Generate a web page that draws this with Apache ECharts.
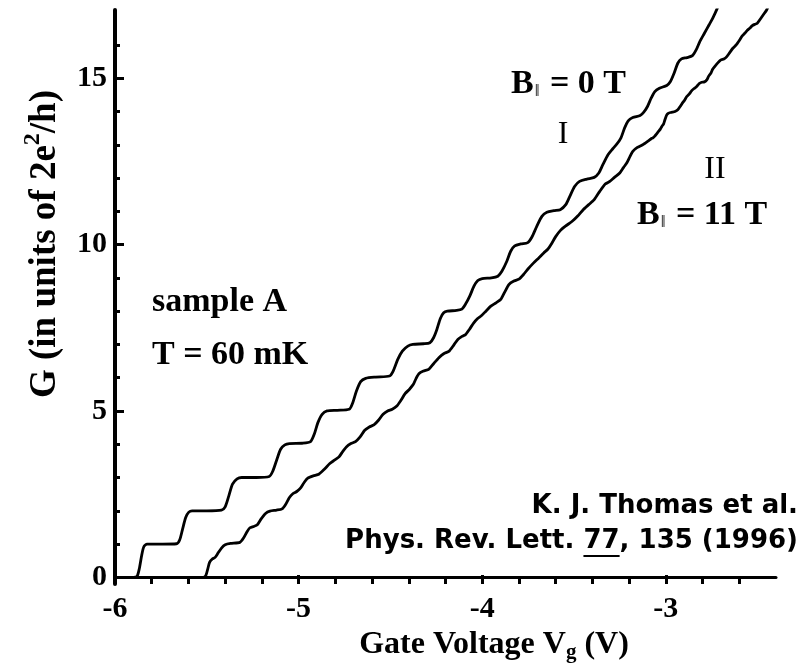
<!DOCTYPE html>
<html>
<head>
<meta charset="utf-8">
<script src="https://cdn.jsdelivr.net/npm/echarts@6/dist/echarts.min.js"></script>
<style>
  html, body { margin: 0; padding: 0; background: #fff; }
  #chart { width: 811px; height: 670px; }
</style>
</head>
<body>
<div id="chart"></div>
<script>
// Trace I: B|| = 0 T — gate voltage (V) and conductance (units of 2e^2/h)
const vgTraceI = [
  -6.00, -5.90, -5.88, -5.868, -5.855, -5.843, -5.825, -5.74, -5.665, -5.648,
  -5.632, -5.615, -5.598, -5.58, -5.50, -5.42, -5.40, -5.38, -5.36, -5.335,
  -5.31, -5.23, -5.16, -5.14, -5.118, -5.098, -5.075, -5.05, -4.98, -4.935,
  -4.915, -4.895, -4.872, -4.845, -4.79, -4.725, -4.705, -4.685, -4.662, -4.635,
  -4.58, -4.505, -4.485, -4.46, -4.435, -4.405, -4.378, -4.32, -4.285, -4.265,
  -4.247, -4.228, -4.21, -4.19, -4.14, -4.111, -4.09, -4.068, -4.045, -4.024,
  -4.00, -3.95, -3.915, -3.893, -3.866, -3.845, -3.823, -3.79, -3.752, -3.73,
  -3.703, -3.675, -3.648, -3.61, -3.575, -3.545, -3.523, -3.496, -3.47, -3.43,
  -3.39, -3.365, -3.343, -3.315, -3.289, -3.27, -3.245, -3.225, -3.205, -3.18,
  -3.14, -3.12, -3.10, -3.08, -3.06, -3.035, -2.995, -2.975, -2.955, -2.935,
  -2.915, -2.885, -2.855, -2.835, -2.815, -2.79, -2.765, -2.745, -2.72, -2.71
];
const gTraceI = [
  0.00, 0.00, 0.03, 0.25, 0.65, 0.92, 1.00, 1.00, 1.01, 1.12,
  1.45, 1.80, 1.96, 2.00, 2.00, 2.02, 2.12, 2.45, 2.80, 2.96,
  3.00, 3.00, 3.03, 3.20, 3.55, 3.85, 3.98, 4.02, 4.03, 4.08,
  4.30, 4.65, 4.90, 5.00, 5.02, 5.05, 5.25, 5.60, 5.88, 5.98,
  6.02, 6.05, 6.20, 6.55, 6.80, 6.95, 7.00, 7.02, 7.05, 7.20,
  7.45, 7.78, 7.95, 8.00, 8.02, 8.06, 8.22, 8.45, 8.75, 8.92,
  8.98, 9.00, 9.05, 9.20, 9.50, 9.80, 9.96, 10.02, 10.06, 10.22,
  10.55, 10.85, 10.97, 11.02, 11.05, 11.20, 11.45, 11.75, 11.90, 11.97,
  12.02, 12.15, 12.40, 12.70, 12.88, 13.00, 13.20, 13.50, 13.72, 13.82,
  13.88, 13.98, 14.15, 14.40, 14.60, 14.70, 14.78, 14.90, 15.15, 15.45,
  15.58, 15.62, 15.68, 15.85, 16.10, 16.35, 16.60, 16.80, 17.10, 17.25
];

// Trace II: B|| = 11 T — spin-split steps, noisier at high conductance
const vgTraceII = [
  -6.00, -5.60, -5.52, -5.505, -5.495, -5.485, -5.47, -5.455, -5.44, -5.42,
  -5.40, -5.37, -5.32, -5.30, -5.28, -5.265, -5.245, -5.225, -5.205, -5.18,
  -5.156, -5.12, -5.09, -5.07, -5.05, -5.03, -5.01, -4.99, -4.97, -4.95,
  -4.92, -4.89, -4.86, -4.83, -4.805, -4.78, -4.76, -4.74, -4.715, -4.69,
  -4.665, -4.64, -4.615, -4.59, -4.565, -4.54, -4.515, -4.49, -4.465, -4.445,
  -4.42, -4.395, -4.375, -4.36, -4.345, -4.32, -4.29, -4.265, -4.236, -4.21,
  -4.18, -4.155, -4.133, -4.11, -4.09, -4.07, -4.046, -4.025, -4.005, -3.98,
  -3.953, -3.925, -3.899, -3.877, -3.855, -3.83, -3.80, -3.775, -3.752, -3.72,
  -3.692, -3.665, -3.643, -3.62, -3.60, -3.575, -3.545, -3.51, -3.48, -3.45,
  -3.42, -3.39, -3.36, -3.33, -3.305, -3.28, -3.251, -3.23, -3.213, -3.195,
  -3.18, -3.155, -3.126, -3.095, -3.08, -3.07, -3.06, -3.05, -3.04, -3.03,
  -3.022, -3.012, -3.005, -2.995, -2.985, -2.975, -2.965, -2.95, -2.935, -2.922,
  -2.91, -2.898, -2.886, -2.873, -2.86, -2.846, -2.832, -2.818, -2.805, -2.79,
  -2.777, -2.766, -2.755, -2.745, -2.734, -2.717, -2.70, -2.684, -2.668, -2.652,
  -2.635, -2.617, -2.598, -2.584, -2.57, -2.556, -2.543, -2.529, -2.515, -2.502,
  -2.489, -2.47, -2.451, -2.44
];
const gTraceII = [
  0.00, 0.00, 0.00, 0.06, 0.25, 0.45, 0.55, 0.60, 0.72, 0.88,
  0.98, 1.02, 1.05, 1.18, 1.38, 1.49, 1.53, 1.58, 1.75, 1.92,
  1.99, 2.02, 2.06, 2.20, 2.40, 2.52, 2.58, 2.68, 2.85, 2.98,
  3.05, 3.10, 3.25, 3.42, 3.52, 3.62, 3.78, 3.92, 4.02, 4.08,
  4.22, 4.42, 4.52, 4.58, 4.72, 4.90, 5.00, 5.05, 5.15, 5.30,
  5.52, 5.66, 5.80, 5.98, 6.12, 6.20, 6.26, 6.42, 6.60, 6.72,
  6.80, 6.98, 7.15, 7.24, 7.30, 7.45, 7.65, 7.78, 7.86, 8.00,
  8.15, 8.25, 8.35, 8.58, 8.80, 8.90, 8.96, 9.10, 9.26, 9.45,
  9.60, 9.75, 9.86, 10.05, 10.24, 10.42, 10.56, 10.70, 10.86, 11.05,
  11.20, 11.35, 11.60, 11.82, 11.90, 12.02, 12.15, 12.32, 12.45, 12.65,
  12.80, 12.92, 13.00, 13.12, 13.18, 13.21, 13.26, 13.33, 13.40, 13.47,
  13.55, 13.63, 13.75, 13.90, 13.95, 13.97, 13.98, 14.00, 14.05, 14.15,
  14.25, 14.34, 14.45, 14.52, 14.62, 14.69, 14.75, 14.84, 14.88, 14.89,
  14.95, 15.07, 15.15, 15.27, 15.35, 15.46, 15.55, 15.58, 15.65, 15.77,
  15.90, 16.00, 16.15, 16.27, 16.35, 16.44, 16.50, 16.58, 16.62, 16.65,
  16.75, 16.90, 17.05, 17.20
];

// Axis ticks
const xMajorTicks = [-6, -5, -4, -3];
const yMajorTicks = [0, 5, 10, 15];

const SERIF = "'Liberation Serif', 'Times New Roman', serif";
const SANS = "'DejaVu Sans', Verdana, sans-serif";

const zip = (xs, ys) => xs.map((x, i) => [x, ys[i]]);

// Plot frame in pixels
const L = 115, R = 776, T = 10, B = 584;
const X_MIN = -6, X_MAX = -2.4, Y_MIN = -0.2, Y_MAX = 17.05;
const pxPerV = (R - L) / (X_MAX - X_MIN);
const pxPerG = (B - T) / (Y_MAX - Y_MIN);
const xPix = v => L + (v - X_MIN) * pxPerV;
const yPix = g => B - (g - Y_MIN) * pxPerG;

const chart = echarts.init(document.getElementById('chart'), null, { renderer: 'canvas' });

const hiddenAxis = (gridIndex) => ({ gridIndex, type: 'value', show: false, min: 0, max: 1 });

const tickLabelStyle = {
  fontFamily: SERIF, fontWeight: 'bold', fontSize: 30, color: '#000'
};

// Underline position under the volume number
function measure(text, font) {
  const c = document.createElement('canvas').getContext('2d');
  c.font = font;
  return c.measureText(text).width;
}
const citeFont = 'bold 26px ' + SANS;
const citeText = 'Phys. Rev. Lett. 77, 135 (1996)';
const citeRight = 798;
const citeStart = citeRight - measure(citeText, citeFont);
const volStart = citeStart + measure('Phys. Rev. Lett. ', citeFont);
const volEnd = volStart + measure('77', citeFont);

const subRich = { fontFamily: SERIF, fontSize: 17, lineHeight: 17, padding: [15, 2, 0, 1] };

const option = {
  animation: false,
  backgroundColor: '#fff',
  grid: [
    { left: L, top: T, width: R - L, height: B - T },
    // major x ticks / labels
    { left: L, top: T, width: xPix(-3) - L, height: B - T },
    // minor x ticks
    { left: L, top: T, width: xPix(-2.6) - L, height: B - T },
    // major y ticks / labels
    { left: L, top: yPix(15), width: R - L, height: yPix(0) - yPix(15) },
    // minor y ticks
    { left: L, top: yPix(16), width: R - L, height: yPix(0) - yPix(16) }
  ],
  xAxis: [
    {
      gridIndex: 0, type: 'value', min: X_MIN, max: X_MAX,
      axisLine: { lineStyle: { color: '#000', width: 3 } },
      axisTick: { show: false }, axisLabel: { show: false }, splitLine: { show: false }
    },
    {
      gridIndex: 1, type: 'value', min: -6, max: -3, interval: 1,
      axisLine: { show: false },
      axisTick: { inside: true, length: 9, lineStyle: { color: '#000', width: 3 } },
      axisLabel: Object.assign({ margin: 10, formatter: v => xMajorTicks.includes(v) ? String(v) : '' }, tickLabelStyle),
      splitLine: { show: false }
    },
    {
      gridIndex: 2, type: 'value', min: -6, max: -2.6, interval: 0.2,
      axisLine: { show: false },
      axisTick: { inside: true, length: 5, lineStyle: { color: '#000', width: 3 } },
      axisLabel: { show: false }, splitLine: { show: false }
    },
    hiddenAxis(3),
    hiddenAxis(4)
  ],
  yAxis: [
    {
      gridIndex: 0, type: 'value', min: Y_MIN, max: Y_MAX,
      axisLine: { lineStyle: { color: '#000', width: 4 } },
      axisTick: { show: false }, axisLabel: { show: false }, splitLine: { show: false }
    },
    hiddenAxis(1),
    hiddenAxis(2),
    {
      gridIndex: 3, type: 'value', min: 0, max: 15, interval: 5,
      axisLine: { show: false },
      axisTick: { inside: true, length: 9, lineStyle: { color: '#000', width: 3 } },
      axisLabel: Object.assign({ margin: 8, formatter: v => yMajorTicks.includes(v) ? String(v) : '' }, tickLabelStyle),
      splitLine: { show: false }
    },
    {
      gridIndex: 4, type: 'value', min: 0, max: 16, interval: 1,
      axisLine: { show: false },
      axisTick: { inside: true, length: 5, lineStyle: { color: '#000', width: 3 } },
      axisLabel: { show: false }, splitLine: { show: false }
    }
  ],
  series: [
    {
      name: 'B|| = 0 T', type: 'line', xAxisIndex: 0, yAxisIndex: 0,
      data: zip(vgTraceI, gTraceI), showSymbol: false, smooth: 0.25,
      lineStyle: { color: '#000', width: 2.8 }, clip: true
    },
    {
      name: 'B|| = 11 T', type: 'line', xAxisIndex: 0, yAxisIndex: 0,
      data: zip(vgTraceII, gTraceII), showSymbol: false, smooth: 0.2,
      lineStyle: { color: '#000', width: 2.8 }, clip: true
    }
  ],
  graphic: [
    {
      type: 'text', x: 45, y: 244, rotation: Math.PI / 2,
      style: {
        text: 'G (in units of 2e{sup|2}/h)',
        font: 'bold 37px ' + SERIF, fill: '#000',
        align: 'center', verticalAlign: 'middle',
        rich: { sup: { fontFamily: SERIF, fontWeight: 'bold', fontSize: 24, lineHeight: 24, padding: [0, 0, 24, 0] } }
      }
    },
    {
      type: 'text', x: 494, y: 645,
      style: {
        text: 'Gate Voltage V{sub|g} (V)',
        font: 'bold 32px ' + SERIF, fill: '#000',
        align: 'center', verticalAlign: 'middle',
        rich: { sub: { fontFamily: SERIF, fontWeight: 'bold', fontSize: 21, lineHeight: 21, padding: [16, 0, 0, 0] } }
      }
    },
    {
      type: 'text', x: 511, y: 84,
      style: {
        text: 'B{sub|\u2016} = 0 T', font: 'bold 34px ' + SERIF, fill: '#000',
        align: 'left', verticalAlign: 'middle', rich: { sub: subRich }
      }
    },
    {
      type: 'text', x: 563, y: 135,
      style: { text: 'I', font: '32px ' + SERIF, fill: '#000', align: 'center', verticalAlign: 'middle' }
    },
    {
      type: 'text', x: 715, y: 170,
      style: { text: 'II', font: '32px ' + SERIF, fill: '#000', align: 'center', verticalAlign: 'middle' }
    },
    {
      type: 'text', x: 637, y: 215,
      style: {
        text: 'B{sub|\u2016} = 11 T', font: 'bold 34px ' + SERIF, fill: '#000',
        align: 'left', verticalAlign: 'middle', rich: { sub: subRich }
      }
    },
    {
      type: 'text', x: 152, y: 302,
      style: { text: 'sample A', font: 'bold 34px ' + SERIF, fill: '#000', align: 'left', verticalAlign: 'middle' }
    },
    {
      type: 'text', x: 152, y: 355,
      style: { text: 'T = 60 mK', font: 'bold 34px ' + SERIF, fill: '#000', align: 'left', verticalAlign: 'middle' }
    },
    {
      type: 'text', x: citeRight, y: 506,
      style: { text: 'K. J. Thomas et al.', font: citeFont, fill: '#000', align: 'right', verticalAlign: 'middle' }
    },
    {
      type: 'text', x: citeRight, y: 541,
      style: { text: citeText, font: citeFont, fill: '#000', align: 'right', verticalAlign: 'middle' }
    },
    {
      type: 'line', shape: { x1: volStart, y1: 556, x2: volEnd, y2: 556 },
      style: { stroke: '#000', lineWidth: 2 }
    }
  ]
};

chart.setOption(option);
</script>
</body>
</html>
